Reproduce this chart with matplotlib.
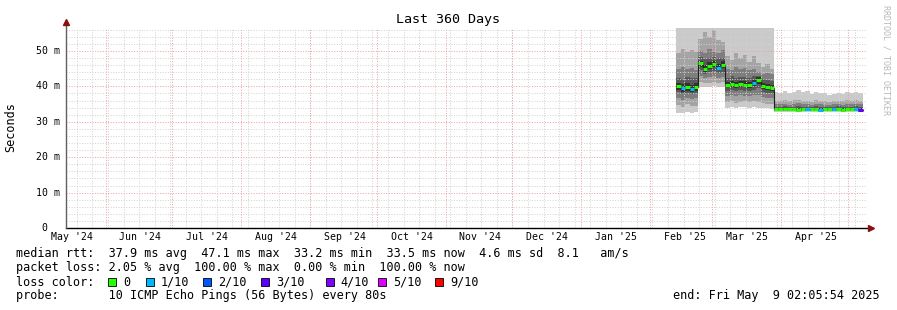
import datetime as dt
import matplotlib
matplotlib.use("Agg")
import matplotlib.pyplot as plt
import matplotlib.dates as mdates
import matplotlib.transforms as mtransforms
from matplotlib.patches import Rectangle
import numpy as np

W, H = 897, 310
MONO = "DejaVu Sans Mono"

# graph window ("Last 360 Days")
end_time = dt.datetime(2025, 5, 9, 2, 5, 54)
start_time = end_time - dt.timedelta(days=360)

# one sample every 2 days, starting here
first_sample = dt.datetime(2025, 2, 12, 17, 0)
step_days = 2

# median rtt in ms
median = [40.1, 39.5, 39.8, 39.4, 39.8,
          46.6, 45.0, 45.7, 46.3, 45.3, 46.1,
          40.4, 40.7, 40.3, 40.6, 40.5, 40.3, 40.9,
          41.9, 40.0, 39.7, 39.5,
          33.6, 33.5, 33.5, 33.6, 33.5, 33.4, 33.5, 33.6, 33.5, 33.5,
          33.4, 33.5, 33.6, 33.5, 33.5, 33.4, 33.5, 33.5, 33.6, 33.4]

# lost pings (out of 10) per sample
loss = [0, 1, 0, 1, 0,
        0, 0, 0, 0, 1, 0,
        0, 0, 0, 0, 0, 0, 1,
        0, 0, 0, 0,
        0, 0, 0, 0, 0, 0, 0, 1, 0, 0,
        1, 0, 0, 1, 0, 0, 0, 0, 1, 3]

# sorted ping values (smoke), p1 = fastest ... p10 = slowest
p10 = [58.0, 58.0, 58.0, 58.0, 58.0,
       58.0, 58.0, 58.0, 58.0, 58.0, 58.0,
       58.0, 58.0, 58.0, 58.0, 58.0, 58.0, 58.0,
       58.0, 58.0, 58.0, 58.0,
       38.5, 38.2, 38.8, 38.0, 38.4, 39.1, 38.3, 38.6, 37.9, 38.4,
       38.2, 38.0, 37.6, 37.8, 38.1, 37.9, 38.3, 38.0, 38.5, 38.2]
p9 = [49.5, 50.5, 49.8, 50.2, 49.6,
      53.5, 55.5, 54.0, 56.0, 53.0, 52.5,
      48.5, 47.5, 49.5, 48.0, 49.0, 47.0, 48.5,
      46.5, 45.5, 46.2, 45.0,
      36.0, 35.8, 36.2, 35.9, 36.1, 36.3, 35.8, 36.0, 35.7, 36.1,
      35.9, 35.8, 35.6, 35.9, 36.0, 35.8, 36.1, 35.9, 36.2, 36.0]
p8 = [45.0, 45.5, 44.8, 45.2, 44.6,
      50.0, 49.5, 50.5, 49.8, 49.5, 50.2,
      45.0, 44.5, 45.5, 44.8, 45.2, 44.6, 45.0,
      44.0, 43.5, 43.8, 43.4,
      35.0, 34.9, 35.1, 34.8, 35.0, 35.2, 34.9, 35.0, 34.8, 35.0,
      34.9, 34.8, 34.7, 34.9, 35.0, 34.8, 35.0, 34.9, 35.1, 34.9]
p7 = [42.4, 42.2, 42.6, 42.3, 42.5,
      48.2, 47.8, 48.0, 48.4, 47.9, 48.1,
      42.5, 42.8, 42.4, 42.6, 42.7, 42.3, 42.9,
      43.0, 42.0, 41.8, 41.5,
      34.3, 34.2, 34.4, 34.3, 34.2, 34.5, 34.3, 34.3, 34.2, 34.4,
      34.3, 34.2, 34.1, 34.3, 34.4, 34.2, 34.3, 34.3, 34.4, 34.2]
p6 = [41.0, 40.6, 40.9, 40.5, 40.9,
      47.3, 46.0, 46.8, 47.3, 46.4, 47.1,
      41.3, 41.6, 41.2, 41.5, 41.4, 41.2, 41.8,
      42.6, 41.0, 40.7, 40.5,
      33.9, 33.8, 34.0, 33.9, 33.8, 34.0, 33.9, 33.9, 33.8, 33.9,
      33.9, 33.8, 33.8, 33.9, 34.0, 33.8, 33.9, 33.9, 34.0, 33.8]
p5 = [39.0, 38.5, 38.8, 38.4, 38.8,
      45.6, 44.2, 44.8, 45.4, 44.5, 45.2,
      39.7, 39.9, 39.6, 39.8, 39.8, 39.6, 40.0,
      40.8, 39.2, 39.0, 38.8,
      33.3, 33.3, 33.3, 33.3, 33.3, 33.2, 33.3, 33.3, 33.3, 33.3,
      33.2, 33.3, 33.3, 33.3, 33.3, 33.2, 33.3, 33.3, 33.3, 33.2]
p4 = [38.3, 37.8, 38.2, 37.9, 38.2,
      44.5, 43.5, 44.0, 44.4, 43.8, 44.2,
      38.8, 39.0, 38.7, 38.9, 38.8, 38.7, 39.0,
      39.5, 38.3, 38.2, 38.0,
      33.2, 33.2, 33.2, 33.2, 33.2, 33.1, 33.2, 33.2, 33.2, 33.2,
      33.1, 33.2, 33.2, 33.2, 33.2, 33.1, 33.2, 33.2, 33.2, 33.1]
p3 = [36.7, 36.3, 36.8, 36.4, 36.6,
      42.8, 42.3, 42.6, 42.9, 42.4, 42.7,
      37.3, 37.6, 37.2, 37.5, 37.4, 37.2, 37.6,
      37.5, 37.0, 36.8, 36.6,
      33.1, 33.1, 33.1, 33.1, 33.1, 33.0, 33.1, 33.1, 33.1, 33.1,
      33.0, 33.1, 33.1, 33.1, 33.1, 33.0, 33.1, 33.1, 33.1, 33.0]
p2 = [34.7, 34.3, 34.9, 34.5, 34.6,
      41.2, 40.9, 41.1, 41.3, 41.0, 41.2,
      35.6, 35.9, 35.4, 35.7, 35.8, 35.5, 35.9,
      35.5, 35.2, 35.0, 34.9,
      33.0, 33.0, 33.0, 33.0, 33.0, 32.9, 33.0, 33.0, 33.0, 33.0,
      32.9, 33.0, 33.0, 33.0, 33.0, 32.9, 33.0, 33.0, 33.0, 32.9]
p1 = [32.6, 32.4, 32.8, 32.5, 32.7,
      39.8, 39.9, 39.8, 40.0, 39.8, 39.9,
      34.0, 34.2, 33.9, 34.1, 34.2, 33.9, 34.3,
      34.0, 33.8, 33.9, 33.7,
      32.9, 32.9, 32.9, 32.9, 32.9, 32.8, 32.9, 32.9, 32.9, 32.9,
      32.8, 32.9, 32.9, 32.9, 32.9, 32.8, 32.9, 32.9, 32.9, 32.8]

yticks = [0, 10, 20, 30, 40, 50]
ytick_labels = ["0", "10 m", "20 m", "30 m", "40 m", "50 m"]
month_labels = ["May '24", "Jun '24", "Jul '24", "Aug '24", "Sep '24", "Oct '24",
                "Nov '24", "Dec '24", "Jan '25", "Feb '25", "Mar '25", "Apr '25"]

loss_labels = ["0", "1/10", "2/10", "3/10", "4/10", "5/10", "9/10"]
loss_colors = ["#26ff00", "#00b8ff", "#0059ff", "#5e00ff", "#7e00ff", "#dd00ff", "#ff0000"]
loss_color_of = {0: "#26ff00", 1: "#00b8ff", 2: "#0059ff", 3: "#5e00ff",
                 4: "#7e00ff", 5: "#dd00ff", 9: "#ff0000"}
smoke_colors = ["#cacaca", "#a4a4a4", "#7e7e7e", "#585858", "#323232"]

n = len(median)
edges = [first_sample + dt.timedelta(days=step_days * i) for i in range(n + 1)]
t = mdates.date2num(edges)


def ext(a):
    # repeat last value so step fills cover the final interval
    return np.append(np.asarray(a, dtype=float), a[-1])


fig = plt.figure(figsize=(W / 100, H / 100), dpi=100)
fig.patch.set_facecolor("white")
ax = fig.add_axes([66 / W, (H - 228) / H, 800 / W, 200 / H])
ax.set_xlim(mdates.date2num(start_time), mdates.date2num(end_time))
ax.set_ylim(0, 56.5)
for s in ax.spines.values():
    s.set_visible(False)

# smoke
pairs = [(p1, p10), (p2, p9), (p3, p8), (p4, p7), (p5, p6)]
for (lo, hi), c in zip(pairs, smoke_colors):
    ax.fill_between(t, ext(lo), ext(hi), step="post", color=c, lw=0, zorder=2)

# grid (drawn over the smoke like rrdtool does)
minor_c, major_c = "#d2d2d2", "#f0a0a0"
dots = (0, (1, 1.6))
for v in range(2, 57, 2):
    if v % 10:
        ax.axhline(v, color=minor_c, lw=0.72, ls=dots, zorder=3)
for v in range(10, 57, 10):
    ax.axhline(v, color=major_c, lw=0.72, ls=dots, zorder=3)

week = dt.datetime(2024, 5, 19)
while week < end_time:
    ax.axvline(mdates.date2num(week), color=minor_c, lw=0.72, ls=dots, zorder=3)
    week += dt.timedelta(days=7)

month_starts = []
label_pos = []
y, m = 2024, 5
for _ in range(13):
    d = dt.datetime(y, m, 1)
    month_starts.append(d)
    label_pos.append(d + dt.timedelta(days=15.6))
    m += 1
    if m > 12:
        m, y = 1, y + 1
for d in month_starts:
    if start_time < d < end_time:
        ax.axvline(mdates.date2num(d), color=major_c, lw=0.72, ls=dots, zorder=3)

# median line coloured by loss
ax.step(t, ext(median), where="post", color="#202020", lw=0.8, zorder=5)
for i in range(n):
    ax.plot([t[i], t[i + 1]], [median[i], median[i]], color=loss_color_of[loss[i]],
            lw=2.2, solid_capstyle="butt", zorder=6)

# axes lines with arrows
ax.plot([0, 1.005], [0, 0], transform=ax.transAxes, color="black", lw=1.0,
        clip_on=False, zorder=7)
ax.plot([0, 0], [0, 1.03], transform=ax.transAxes, color="#606060", lw=1.0,
        clip_on=False, zorder=7)
ax.plot([1.006], [0], transform=ax.transAxes, marker=">", ms=4, color="#8b1010",
        clip_on=False, zorder=8)
ax.plot([0], [1.03], transform=ax.transAxes, marker="^", ms=4, color="#8b1010",
        clip_on=False, zorder=8)

# tick labels
ax.set_yticks([])
ax.set_xticks(mdates.date2num(label_pos[:12]))
ax.set_xticklabels(month_labels, fontfamily=MONO, fontsize=7.1)
ax.tick_params(axis="x", length=0, pad=3)
ytrans = mtransforms.blended_transform_factory(ax.transAxes, ax.transData)
for v, lab in zip(yticks, ytick_labels):
    xoff = -6 / 800 if v else -19 / 800
    ax.text(xoff, v, lab, transform=ytrans, ha="right", va="center",
            fontfamily=MONO, fontsize=7.1)


def px(x, y):
    return x / W, 1 - y / H


fig.text(*px(448, 19), "Last 360 Days", ha="center", va="center",
         fontfamily=MONO, fontsize=9.6)
fig.text(*px(11, 127), "Seconds", ha="center", va="center", rotation=90,
         fontfamily=MONO, fontsize=8.5)
fig.text(*px(886, 60), "RRDTOOL / TOBI OETIKER", ha="center", va="center",
         rotation=270, fontfamily=MONO, fontsize=6, color="#b8b8b8")

# legend block
fig.text(*px(16, 254), "median rtt:  37.9 ms avg  47.1 ms max  33.2 ms min  "
         "33.5 ms now  4.6 ms sd  8.1   am/s", va="center", fontfamily=MONO, fontsize=8.5)
fig.text(*px(16, 268), "packet loss: 2.05 % avg  100.00 % max  0.00 % min  "
         "100.00 % now", va="center", fontfamily=MONO, fontsize=8.5)
fig.text(*px(16, 282), "loss color:", va="center", fontfamily=MONO, fontsize=8.5)
sw_x = [108, 145.5, 203, 261, 325.5, 378, 435]
for x, lab, c in zip(sw_x, loss_labels, loss_colors):
    fig.add_artist(Rectangle(px(x, 286), 8 / W, 8 / H, transform=fig.transFigure,
                             facecolor=c, edgecolor="black", lw=0.6))
    fig.text(*px(x + 15, 282), lab, va="center", fontfamily=MONO, fontsize=8.5)
fig.text(*px(16, 296), "probe:       10 ICMP Echo Pings (56 Bytes) every 80s",
         va="center", fontfamily=MONO, fontsize=8.5)
fig.text(*px(880, 296), "end: Fri May  9 02:05:54 2025", ha="right", va="center",
         fontfamily=MONO, fontsize=8.5)

fig.savefig("out.png", dpi=100)
